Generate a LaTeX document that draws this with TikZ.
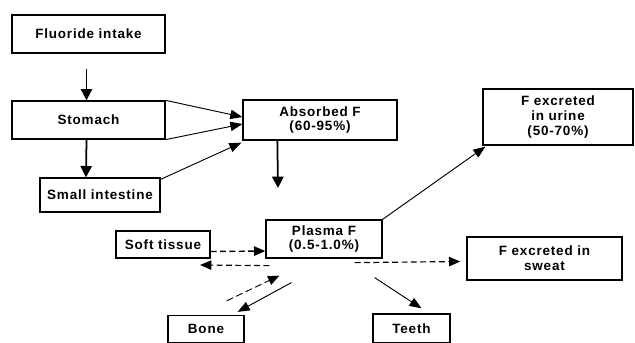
\documentclass[tikz,border=0pt]{standalone}
\usepackage{fontspec}
\setmainfont{Liberation Sans}[LetterSpace=6]
\usepackage{tikz}
\usetikzlibrary{arrows.meta,calc}

\begin{document}
\begin{tikzpicture}[
x=0.03cm,
y=-0.03cm,
box/.style={
draw,
line width=1.1pt,
inner sep=0pt,
align=center,
font=\fontsize{11.5}{12.5}\selectfont\bfseries
},
bigarrow/.style={
-{Triangle[length=3.4mm,width=3.4mm]},
line width=1.5pt
},
thinarrow/.style={
-{Triangle[length=3.6mm,width=2.8mm]},
line width=0.8pt
},
dasharrow/.style={
-{Triangle[length=3.4mm,width=2.8mm]},
line width=1.2pt,
dash pattern=on 5pt off 3pt
}
]

\useasboundingbox (0,0) rectangle (635,343);

\node[box,minimum width=4.59cm,minimum height=1.14cm] (intake) at (88.5,34) {Fluoride intake};
\node[box,minimum width=4.59cm,minimum height=1.14cm] (stomach) at (88.5,120) {Stomach};
\node[box,minimum width=3.6cm,minimum height=1.02cm] (small) at (100,195) {Small intestine};
\node[box,minimum width=4.62cm,minimum height=1.2cm] (absorbed) at (320,120) {Absorbed F\\(60-95\%)};
\node[box,minimum width=4.5cm,minimum height=1.68cm] (urine) at (558,117) {F excreted\\in urine\\(50-70\%)};
\node[box,minimum width=3.48cm,minimum height=1.14cm] (plasma) at (324,239) {Plasma F\\(0.5-1.0\%)};
\node[box,minimum width=2.82cm,minimum height=0.81cm] (soft) at (163,244.5) {Soft tissue};
\node[box,minimum width=4.65cm,minimum height=1.29cm] (sweat) at (544.5,258.5) {F excreted in\\sweat};
\node[box,minimum width=2.28cm,minimum height=0.81cm] (bone) at (206,329) {Bone};
\node[box,minimum width=2.31cm,minimum height=0.87cm] (teeth) at (411.5,328.5) {Teeth};

\coordinate (absend) at (278,188);
\coordinate (softend) at (200,265);

\draw[bigarrow]
($(intake.south)+(-2,15)$) -- ($(stomach.north)+(-2,0)$);

\draw[bigarrow]
($(stomach.south)+(-2,0)$) -- ($(small.north)+(-14,0)$);

\draw[thinarrow]
(stomach.north east) -- ($(absorbed.west)+(0,-3)$);

\draw[thinarrow]
(stomach.south east) -- ($(absorbed.west)+(0,4)$);

\draw[thinarrow]
($(small.north east)+(0,2)$) -- ($(absorbed.south west)+(-1,2)$);

\draw[bigarrow]
($(absorbed.south west)+(35,0)$) -- (absend);

\draw[thinarrow]
(plasma.north east) -- ($(urine.south west)+(3,1)$);

\draw[dasharrow]
($(soft.east)+(0,7)$) -- ($(plasma.west)+(0,12)$);

\draw[dasharrow,line width=1pt]
($(plasma.south west)+(4,7)$) -- (softend);

\draw[dasharrow,line width=0.8pt,dash pattern=on 6pt off 3pt]
($(bone.north east)+(-18,-14)$) -- ($(plasma.south west)+(14,17)$);

\draw[thinarrow]
($(plasma.south west)+(26,24)$) -- ($(bone.north east)+(-7,-3)$);

\draw[dasharrow,line width=1pt]
($(plasma.south east)+(-28,4)$) -- ($(sweat.west)+(-6,3)$);

\draw[thinarrow]
($(plasma.south east)+(-8,19)$) -- ($(teeth.north)+(10,-5)$);

\end{tikzpicture}
\end{document}
